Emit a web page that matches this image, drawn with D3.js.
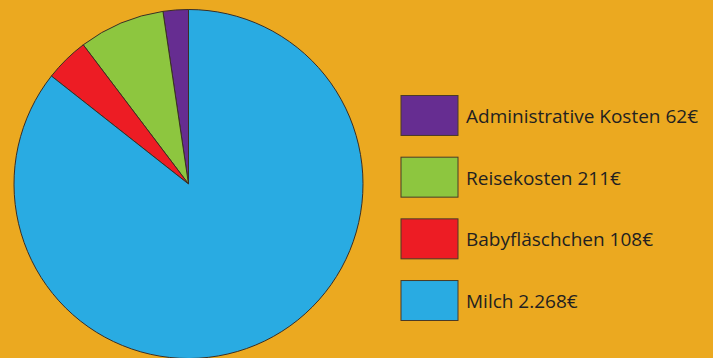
<!DOCTYPE html>
<html>
<head>
<meta charset="utf-8">
<script src="https://cdn.jsdelivr.net/npm/d3@7"></script>
<style>
  html, body { margin: 0; padding: 0; background: #eba920; }
  svg { display: block; }
</style>
</head>
<body>
<svg id="chart" width="713" height="358"></svg>
<script>
// data
var categories = ["Administrative Kosten", "Reisekosten", "Babyfläschchen", "Milch"];
var values = [62, 211, 108, 2268];
var labels = ["Administrative Kosten 62€", "Reisekosten 211€", "Babyfläschchen 108€", "Milch 2.268€"];
var colors = ["#662d91", "#8dc63f", "#ed1c24", "#29abe2"];

var W = 713, H = 358;
var cx = 188.5, cy = 184, r = 174.5;

var svg = d3.select("#chart");
svg.append("rect").attr("width", W).attr("height", H).attr("fill", "#eba920");

// pie goes counter-clockwise from 12 o'clock
var pie = d3.pie().sort(null).startAngle(0).endAngle(-2 * Math.PI);
var arc = d3.arc().innerRadius(0).outerRadius(r);
var color = d3.scaleOrdinal().domain(categories).range(colors);

var pieG = svg.append("g").attr("transform", "translate(" + cx + "," + cy + ")");
pieG.selectAll("path")
    .data(pie(values))
    .enter().append("path")
    .attr("d", arc)
    .attr("fill", function(d, i){ return color(categories[i]); })
    .attr("stroke", "#3a2f25")
    .attr("stroke-width", 1)
    .attr("stroke-linejoin", "round");

// legend
var y = d3.scaleBand().domain(categories).range([95.5, 320.5]).paddingInner(0.352).paddingOuter(0);
var legend = svg.append("g");
var items = legend.selectAll("g")
    .data(categories)
    .enter().append("g")
    .attr("transform", function(d){ return "translate(401," + y(d) + ")"; });

items.append("rect")
    .attr("width", 57)
    .attr("height", y.bandwidth())
    .attr("fill", function(d){ return color(d); })
    .attr("stroke", "#4a3a28")
    .attr("stroke-width", 1);

items.append("text")
    .attr("x", 65)
    .attr("y", y.bandwidth() / 2 + 1)
    .attr("dy", "0.35em")
    .attr("fill", "#231f20")
    .style("font-family", "'Open Sans', sans-serif")
    .style("font-size", "19px")
    .text(function(d, i){ return labels[i]; });
</script>
</body>
</html>
